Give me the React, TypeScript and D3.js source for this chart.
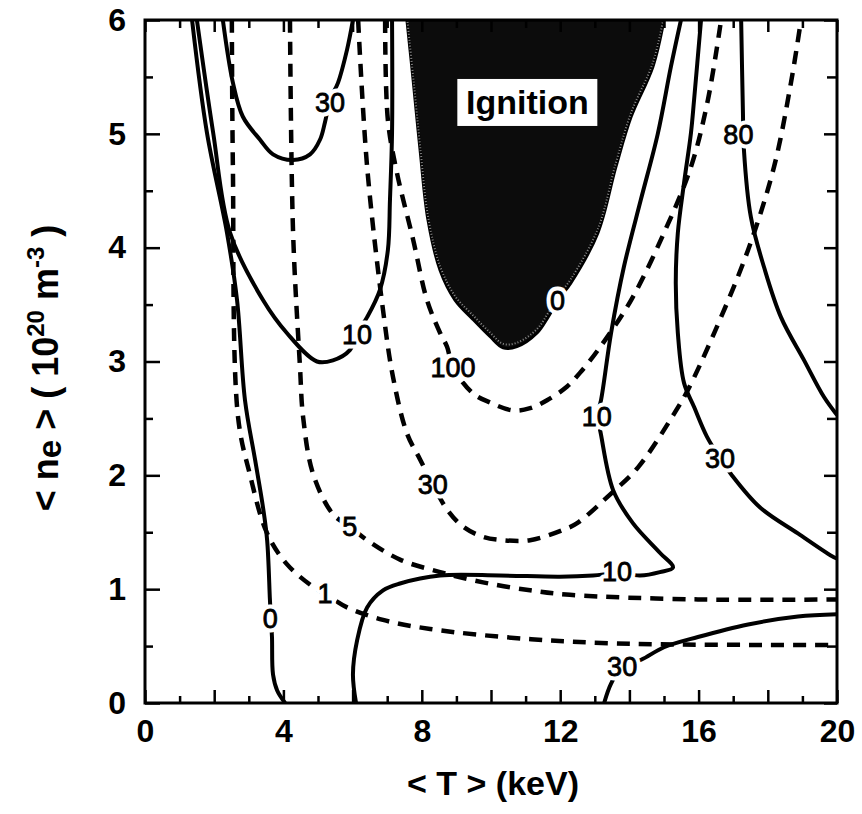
import React, { useEffect, useRef } from 'react';
import * as d3 from 'd3';

const W = 862;
const H = 814;

// axis ticks
const xTicks = [0, 4, 8, 12, 16, 20];
const xMinorEven = [2, 6, 10, 14, 18];
const xMinorOdd = [1, 3, 5, 7, 9, 11, 13, 15, 17, 19];
const yTicks = [0, 1, 2, 3, 4, 5, 6];
const yMinor = [0.5, 1.5, 2.5, 3.5, 4.5, 5.5];

// solid contours, [T keV, n 1e20 m-3]
const solid0Left = [[1.36, 6.0], [1.79, 5.01], [2.37, 4.13], [2.66, 3.54], [2.89, 2.66], [3.18, 2.14], [3.41, 1.72], [3.53, 1.43], [3.61, 0.91], [3.64, 0.73], [3.67, 0.58], [3.7, 0.25], [3.82, 0.11], [4.05, 0]];
const solid10Left = [[1.5, 6.0], [1.97, 5.01], [2.46, 4.13], [3.41, 3.54], [4.1, 3.25], [4.97, 3.0], [5.43, 3.01], [5.92, 3.1], [6.13, 3.25], [6.42, 3.39], [6.79, 3.63], [7.02, 3.98], [7.08, 4.42], [7.14, 5.01], [7.14, 6.0]];
const solid30Left = [[2.25, 6.0], [2.54, 5.45], [2.83, 5.15], [3.32, 4.95], [3.7, 4.82], [4.28, 4.77], [4.77, 4.82], [5.06, 4.95], [5.2, 5.1], [5.35, 5.3], [5.58, 5.45], [5.84, 5.74], [6.01, 6.0]];
const solid10Right = [[6.1, 0], [6.01, 0.25], [6.13, 0.55], [6.42, 0.84], [6.88, 0.99], [7.37, 1.05], [8.53, 1.12], [10.26, 1.12], [11.99, 1.11], [12.95, 1.12], [13.64, 1.14], [14.31, 1.12], [14.88, 1.15], [15.26, 1.19], [14.88, 1.32], [14.1, 1.58], [13.53, 1.87], [13.15, 2.4], [13.06, 2.51], [13.18, 2.66], [13.47, 3.25], [13.84, 3.83], [14.33, 4.42], [14.82, 5.0], [15.2, 5.59], [15.49, 6.0]];
const solid30Right = [[16.07, 6.0], [15.87, 5.3], [15.78, 5.01], [15.58, 4.57], [15.4, 4.13], [15.34, 3.69], [15.4, 3.25], [15.58, 2.81], [15.87, 2.6], [16.24, 2.34], [16.62, 2.15], [16.94, 2.01], [17.77, 1.72], [18.87, 1.49], [19.91, 1.28], [20, 1.27]];
const solid80 = [[17.23, 6.0], [17.28, 5.21], [17.31, 4.86], [17.51, 4.27], [17.89, 3.83], [18.38, 3.39], [19.05, 3.01], [19.62, 2.69], [20, 2.53]];
const solid30Low = [[13.27, 0], [13.47, 0.17], [13.79, 0.32], [14.34, 0.38], [15.0, 0.49], [15.98, 0.58], [17.43, 0.69], [18.87, 0.76], [20, 0.78]];

// ignition boundary (0)
const ignition = [[7.57, 6.0], [7.75, 5.47], [7.95, 4.86], [8.18, 4.24], [8.53, 3.8], [8.96, 3.54], [9.48, 3.37], [9.97, 3.22], [10.35, 3.12], [10.75, 3.13], [11.33, 3.25], [11.65, 3.39], [11.94, 3.54], [12.31, 3.69], [13.09, 4.13], [13.61, 4.71], [14.05, 5.15], [14.68, 5.59], [15.0, 6.0]];

// dashed contours
const dash1 = [[2.51, 6.0], [2.54, 4.71], [2.69, 2.51], [3.03, 2.01], [3.53, 1.49], [4.1, 1.22], [4.86, 1.02], [5.2, 0.96], [5.84, 0.84], [6.88, 0.73], [8.24, 0.65], [11.16, 0.56], [14.05, 0.52], [20, 0.51]];
const dash5 = [[4.19, 6.0], [4.28, 4.13], [4.48, 2.95], [4.57, 2.51], [4.86, 2.01], [5.43, 1.66], [5.92, 1.55], [6.42, 1.43], [7.37, 1.26], [8.53, 1.15], [9.77, 1.06], [11.13, 0.99], [12.28, 0.95], [15.98, 0.91], [20, 0.91]];
const dash30 = [[6.16, 6.0], [6.42, 4.71], [6.88, 3.45], [7.17, 2.86], [7.57, 2.37], [7.95, 2.14], [8.32, 1.92], [8.73, 1.7], [9.19, 1.55], [9.77, 1.46], [10.35, 1.43], [11.13, 1.43], [12.08, 1.52], [12.49, 1.58], [13.47, 1.84], [14.25, 2.07], [15.29, 2.54], [15.69, 2.75], [16.45, 3.25], [17.43, 3.98], [18.18, 4.71], [18.67, 5.45], [18.96, 6.0]];
const dash100 = [[6.94, 6.0], [7.02, 5.12], [7.28, 4.66], [7.75, 4.07], [8.15, 3.54], [8.53, 3.25], [8.73, 3.13], [8.9, 2.95], [9.48, 2.72], [9.97, 2.64], [10.64, 2.57], [11.13, 2.59], [11.62, 2.66], [12.2, 2.78], [12.57, 2.9], [13.09, 3.1], [14.05, 3.54], [15.0, 4.13], [15.78, 4.71], [16.27, 5.3], [16.65, 6.0]];

// contour labels [T, n, text]
const labels = [
  [5.35, 5.28, '30'], [6.13, 3.24, '10'], [3.62, 0.74, '0'], [5.2, 0.96, '1'],
  [5.92, 1.55, '5'], [8.32, 1.92, '30'], [8.9, 2.95, '100'], [11.92, 3.54, '0'],
  [13.06, 2.52, '10'], [13.64, 1.16, '10'], [16.62, 2.15, '30'], [17.15, 5.0, '80'],
  [13.79, 0.32, '30'],
];

const ignitionLabel = [11.05, 5.28, 'Ignition'];

const FONT = 'Liberation Sans, Arial, Helvetica, sans-serif';

export default function App() {
  const ref = useRef(null);

  useEffect(() => {
    const svg = d3.select(ref.current);
    svg.selectAll('*').remove();

    const x = d3.scaleLinear().domain([0, 20]).range([145, 837]);
    const y = d3.scaleLinear().domain([0, 6]).range([703, 20]);

    svg.append('defs').append('clipPath').attr('id', 'plot')
      .append('rect')
      .attr('x', x(0)).attr('y', y(6))
      .attr('width', x(20) - x(0)).attr('height', y(0) - y(6));

    const line = d3.line().x(d => x(d[0])).y(d => y(d[1]))
      .curve(d3.curveCatmullRom.alpha(0.5));

    const plot = svg.append('g').attr('clip-path', 'url(#plot)');

    // ignition region
    plot.append('path')
      .attr('d', line(ignition) + 'Z')
      .attr('fill', '#0c0c0c')
      .attr('stroke', '#000')
      .attr('stroke-width', 3);
    plot.append('path')
      .attr('d', line(ignition))
      .attr('fill', 'none')
      .attr('stroke', '#8a8a8a')
      .attr('stroke-width', 2)
      .attr('stroke-dasharray', '1 2')
      .attr('transform', 'translate(0,-4)');

    [dash1, dash5, dash30, dash100].forEach(d => {
      plot.append('path')
        .attr('d', line(d))
        .attr('fill', 'none')
        .attr('stroke', '#000')
        .attr('stroke-width', 4.5)
        .attr('stroke-dasharray', '13 9');
    });

    [solid0Left, solid10Left, solid30Left, solid10Right, solid30Right, solid80, solid30Low].forEach(d => {
      plot.append('path')
        .attr('d', line(d))
        .attr('fill', 'none')
        .attr('stroke', '#000')
        .attr('stroke-width', 4)
        .attr('stroke-linejoin', 'round');
    });

    // contour labels: white halo to break the lines, then the text on top
    const lab = svg.append('g')
      .attr('font-family', FONT)
      .attr('font-size', 27)
      .attr('text-anchor', 'middle');
    lab.selectAll('text.halo')
      .data(labels)
      .enter()
      .append('text')
      .attr('class', 'halo')
      .attr('x', d => x(d[0]))
      .attr('y', d => y(d[1]))
      .attr('dy', '0.36em')
      .attr('fill', '#fff')
      .attr('stroke', '#fff')
      .attr('stroke-width', 9)
      .attr('stroke-linejoin', 'round')
      .text(d => d[2]);
    lab.selectAll('text.lbl')
      .data(labels)
      .enter()
      .append('text')
      .attr('class', 'lbl')
      .attr('x', d => x(d[0]))
      .attr('y', d => y(d[1]))
      .attr('dy', '0.36em')
      .attr('fill', '#000')
      .attr('stroke', '#000')
      .attr('stroke-width', 0.8)
      .text(d => d[2]);

    // Ignition label box
    const ig = svg.append('g');
    ig.append('rect')
      .attr('x', x(ignitionLabel[0]) - 70)
      .attr('y', y(ignitionLabel[1]) - 23)
      .attr('width', 140)
      .attr('height', 47)
      .attr('fill', '#fff');
    ig.append('text')
      .attr('x', x(ignitionLabel[0]))
      .attr('y', y(ignitionLabel[1]))
      .attr('dy', '0.36em')
      .attr('text-anchor', 'middle')
      .attr('font-family', FONT)
      .attr('font-size', 34)
      .attr('font-weight', 'bold')
      .text(ignitionLabel[2]);

    // frame
    svg.append('rect')
      .attr('x', x(0)).attr('y', y(6))
      .attr('width', x(20) - x(0)).attr('height', y(0) - y(6))
      .attr('fill', 'none')
      .attr('stroke', '#000')
      .attr('stroke-width', 3);

    const styleAxis = (g, withText) => {
      g.select('.domain').remove();
      g.selectAll('.tick line').attr('stroke', '#000').attr('stroke-width', 2.5);
      g.selectAll('.tick text')
        .attr('font-family', FONT)
        .attr('font-size', 32)
        .attr('font-weight', 'bold')
        .attr('fill', '#000');
      if (!withText) g.selectAll('.tick text').remove();
    };

    // bottom
    svg.append('g').attr('transform', `translate(0,${y(0)})`)
      .call(d3.axisBottom(x).tickValues(xTicks).tickFormat(d3.format('d'))
        .tickSizeInner(-13).tickSizeOuter(0).tickPadding(16))
      .call(g => styleAxis(g, true));
    svg.append('g').attr('transform', `translate(0,${y(0)})`)
      .call(d3.axisBottom(x).tickValues(xMinorEven).tickSizeInner(-13).tickSizeOuter(0))
      .call(g => styleAxis(g, false));
    svg.append('g').attr('transform', `translate(0,${y(0)})`)
      .call(d3.axisBottom(x).tickValues(xMinorOdd).tickSizeInner(-7).tickSizeOuter(0))
      .call(g => styleAxis(g, false));
    // top
    svg.append('g').attr('transform', `translate(0,${y(6)})`)
      .call(d3.axisTop(x).tickValues(xTicks.concat(xMinorEven)).tickSizeInner(-12).tickSizeOuter(0))
      .call(g => styleAxis(g, false));
    svg.append('g').attr('transform', `translate(0,${y(6)})`)
      .call(d3.axisTop(x).tickValues(xMinorOdd).tickSizeInner(-8).tickSizeOuter(0))
      .call(g => styleAxis(g, false));
    // left
    svg.append('g').attr('transform', `translate(${x(0)},0)`)
      .call(d3.axisLeft(y).tickValues(yTicks).tickFormat(d3.format('d'))
        .tickSizeInner(-15).tickSizeOuter(0).tickPadding(19))
      .call(g => styleAxis(g, true));
    svg.append('g').attr('transform', `translate(${x(0)},0)`)
      .call(d3.axisLeft(y).tickValues(yMinor).tickSizeInner(-8).tickSizeOuter(0))
      .call(g => styleAxis(g, false));
    // right
    svg.append('g').attr('transform', `translate(${x(20)},0)`)
      .call(d3.axisRight(y).tickValues(yTicks).tickSizeInner(-13).tickSizeOuter(0))
      .call(g => styleAxis(g, false));
    svg.append('g').attr('transform', `translate(${x(20)},0)`)
      .call(d3.axisRight(y).tickValues(yMinor).tickSizeInner(-10).tickSizeOuter(0))
      .call(g => styleAxis(g, false));

    // x title
    svg.append('text')
      .attr('x', 493)
      .attr('y', 795)
      .attr('text-anchor', 'middle')
      .attr('font-family', FONT)
      .attr('font-size', 34)
      .attr('font-weight', 'bold')
      .text('< T > (keV)');

    // y title
    const yt = svg.append('text')
      .attr('transform', 'translate(58,368) rotate(-90)')
      .attr('text-anchor', 'middle')
      .attr('font-family', FONT)
      .attr('font-size', 36)
      .attr('font-weight', 'bold');
    yt.append('tspan').text('< n');
    yt.append('tspan').attr('font-size', 33).attr('dy', 3).text('e');
    yt.append('tspan').attr('dy', -3).text(' > ( 10');
    yt.append('tspan').attr('font-size', 24).attr('dy', -14).text('20');
    yt.append('tspan').attr('dy', 14).text(' m');
    yt.append('tspan').attr('font-size', 24).attr('dy', -14).text('-3');
    yt.append('tspan').attr('dy', 14).text(' )');
  }, []);

  return (
    <svg ref={ref} width={W} height={H}
      style={{ position: 'absolute', left: 0, top: 0, background: '#fff' }} />
  );
}
